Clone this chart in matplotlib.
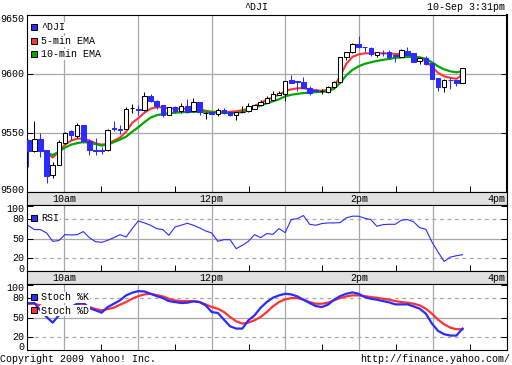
import matplotlib
matplotlib.use('Agg')
import matplotlib.pyplot as plt
import numpy as np
from matplotlib.patches import Rectangle
from matplotlib.transforms import offset_copy

plt.rcParams['font.family'] = ['Liberation Mono', 'DejaVu Sans Mono']

# 5-minute candles of ^DJI, 10-Sep-2009 (9:30am ... 3:25pm)
opens = [9544.4, 9534.5, 9545.0, 9535.3, 9514.0, 9523.3, 9541.6, 9551.7, 9547.2, 9557.0,
         9543.5, 9536.0, 9536.0, 9535.3, 9554.5, 9553.7, 9553.4, 9571.0, 9570.5, 9569.5,
         9581.3, 9577.0, 9573.7, 9565.5, 9572.0, 9568.3, 9573.0, 9568.5, 9576.2, 9567.0,
         9568.0, 9566.0, 9569.2, 9567.8, 9564.9, 9568.2, 9568.3, 9570.5, 9573.4, 9575.4,
         9578.2, 9582.5, 9583.0, 9595.0, 9594.0, 9593.6, 9588.0, 9586.2, 9585.2, 9584.7,
         9588.9, 9593.1, 9614.3, 9618.5, 9625.5, 9623.0, 9621.9, 9616.2, 9617.9, 9618.5,
         9615.8, 9614.8, 9619.6, 9617.6, 9611.1, 9613.4, 9609.2, 9597.0, 9589.4, 9595.2,
         9595.0, 9592.3]
highs = [9545.0, 9560.4, 9550.0, 9536.0, 9525.0, 9543.8, 9551.0, 9552.8, 9558.5, 9557.0,
         9545.0, 9546.0, 9538.0, 9553.0, 9560.0, 9557.0, 9572.0, 9574.5, 9574.0, 9584.4,
         9583.0, 9578.0, 9574.0, 9572.0, 9572.5, 9575.4, 9578.8, 9579.3, 9576.2, 9568.0,
         9568.0, 9571.0, 9571.0, 9568.0, 9568.0, 9573.0, 9575.8, 9574.5, 9577.6, 9581.6,
         9585.2, 9586.0, 9594.2, 9599.3, 9594.0, 9597.6, 9590.0, 9587.0, 9587.2, 9589.5,
         9594.0, 9614.3, 9619.0, 9626.0, 9632.3, 9623.0, 9623.3, 9619.0, 9620.4, 9620.4,
         9616.2, 9621.0, 9623.2, 9618.0, 9614.0, 9615.6, 9609.5, 9597.0, 9595.5, 9597.0,
         9595.0, 9605.0]
lows = [9521.6, 9534.0, 9529.5, 9507.7, 9512.0, 9523.0, 9541.0, 9543.8, 9546.0, 9541.6,
        9531.0, 9531.0, 9532.0, 9534.5, 9552.0, 9549.0, 9553.0, 9567.0, 9565.0, 9569.0,
        9576.0, 9570.0, 9563.6, 9565.0, 9567.0, 9567.0, 9567.0, 9568.0, 9565.0, 9561.8,
        9566.0, 9564.6, 9566.5, 9564.6, 9560.7, 9566.8, 9568.0, 9570.0, 9573.0, 9575.0,
        9578.0, 9582.0, 9576.8, 9592.0, 9586.0, 9588.0, 9582.4, 9585.0, 9583.0, 9584.0,
        9588.0, 9592.0, 9612.0, 9618.0, 9622.0, 9618.5, 9615.6, 9614.8, 9615.4, 9612.8,
        9610.5, 9614.5, 9616.0, 9610.0, 9608.3, 9608.0, 9595.5, 9585.8, 9584.7, 9587.2,
        9590.0, 9592.0]
closes = [9534.5, 9545.0, 9535.0, 9513.4, 9523.3, 9542.1, 9550.0, 9548.0, 9556.8, 9543.0,
          9535.3, 9535.0, 9535.0, 9552.3, 9553.0, 9552.5, 9570.3, 9571.0, 9569.8, 9581.3,
          9576.7, 9573.0, 9565.5, 9572.0, 9568.3, 9572.8, 9568.0, 9576.2, 9567.5, 9567.0,
          9566.5, 9569.7, 9567.0, 9565.0, 9567.8, 9568.2, 9573.1, 9573.4, 9576.2, 9579.6,
          9583.0, 9584.0, 9594.2, 9592.3, 9593.4, 9588.0, 9583.8, 9585.5, 9585.2, 9588.9,
          9593.1, 9614.3, 9618.5, 9625.5, 9622.7, 9622.7, 9616.8, 9618.5, 9617.6, 9614.8,
          9615.6, 9620.4, 9616.2, 9610.5, 9613.4, 9608.3, 9595.9, 9589.4, 9595.0, 9594.8,
          9592.3, 9605.0]

nan = float('nan')
ema5 = [nan, nan, nan, 9533.4, 9529.2, 9534.2, 9540.1, 9543.5, 9545.2, 9545.2,
        9543.5, 9541.4, 9540.1, 9541.0, 9543.5, 9546.1, 9551.1, 9558.7, 9562.5, 9567.2,
        9570.6, 9571.8, 9571.8, 9571.0, 9570.6, 9570.6, 9570.6, 9570.6, 9570.1, 9568.9,
        9568.0, 9568.0, 9568.0, 9568.0, 9568.4, 9569.3, 9570.6, 9572.7, 9575.6, 9578.2,
        9580.3, 9582.4, 9585.4, 9587.0, 9587.9, 9587.9, 9587.0, 9586.2, 9585.8, 9586.6,
        9589.2, 9598.4, 9608.6, 9614.5, 9616.6, 9617.5, 9617.5, 9617.5, 9617.5, 9617.5,
        9617.0, 9617.0, 9616.2, 9614.9, 9613.7, 9611.1, 9606.1, 9601.0, 9598.0, 9596.8,
        9595.9, 9599.3]
ema10 = [nan, nan, nan, 9533.4, 9531.3, 9534.2, 9537.6, 9540.1, 9541.4, 9542.3,
         9541.8, 9540.6, 9539.3, 9540.1, 9542.3, 9544.4, 9546.9, 9551.1, 9554.9, 9559.2,
         9563.0, 9565.1, 9565.9, 9566.8, 9567.2, 9567.6, 9567.8, 9568.0, 9568.0, 9568.0,
         9567.8, 9567.3, 9567.2, 9566.9, 9566.8, 9568.0, 9569.3, 9571.4, 9573.5, 9575.2,
         9576.9, 9578.6, 9581.1, 9582.4, 9583.2, 9583.8, 9584.3, 9584.7, 9584.9, 9585.4,
         9587.5, 9592.5, 9598.9, 9603.5, 9606.5, 9608.6, 9609.9, 9611.1, 9612.0, 9612.8,
         9613.7, 9614.1, 9614.5, 9614.5, 9614.1, 9612.8, 9609.9, 9606.5, 9603.9, 9602.3,
         9601.4, 9602.3]

rsi = [70.2, 64.0, 64.0, 58.8, 45.9, 47.0, 56.2, 55.7, 56.2, 60.9,
       51.6, 45.3, 44.3, 47.4, 51.6, 56.2, 52.6, 65.5, 77.4, 74.3,
       70.7, 65.5, 64.0, 55.2, 68.1, 70.7, 73.8, 70.7, 66.6, 61.9,
       58.8, 45.9, 48.4, 48.4, 34.5, 39.7, 45.9, 56.2, 51.6, 57.8,
       56.7, 65.5, 59.3, 79.5, 81.0, 85.7, 72.2, 70.7, 73.3, 74.3,
       74.3, 74.8, 82.1, 84.7, 84.7, 81.6, 79.5, 69.1, 71.7, 72.2,
       72.2, 78.5, 79.5, 75.9, 67.1, 64.5, 44.8, 29.3, 14.8, 21.5,
       23.6, 25.2]

stoch_k = [72.1, 72.6, 61.3, 51.0, 42.3, 53.6, 61.3, 66.4, 71.5, 73.0,
           64.9, 61.3, 57.7, 66.4, 71.5, 76.7, 84.4, 88.5, 91.0, 90.5,
           86.9, 83.3, 80.3, 75.6, 74.1, 72.6, 73.1, 75.1, 74.1, 69.0,
           58.7, 57.2, 46.9, 36.7, 33.1, 33.1, 45.9, 53.6, 65.4, 74.1,
           80.8, 84.4, 86.9, 85.9, 82.8, 77.7, 72.6, 67.9, 66.4, 70.0,
           77.7, 83.3, 86.9, 89.0, 86.9, 81.8, 79.2, 77.7, 75.6, 73.6,
           70.5, 70.5, 70.5, 67.4, 63.8, 56.2, 40.8, 29.5, 24.4, 22.3,
           22.3, 33.1]
stoch_d = [71.5, 71.5, 69.0, 63.8, 58.7, 56.2, 58.7, 63.8, 69.0, 70.0,
           66.4, 63.3, 61.3, 63.3, 65.4, 70.0, 74.1, 79.2, 83.3, 85.9,
           86.9, 84.9, 82.8, 79.2, 76.7, 75.6, 75.6, 75.6, 74.1, 70.5,
           66.4, 63.8, 58.7, 51.0, 44.4, 40.8, 42.3, 45.9, 51.0, 58.7,
           67.4, 74.1, 78.2, 80.3, 80.3, 77.7, 74.1, 71.5, 71.5, 73.1,
           76.7, 80.3, 82.8, 84.4, 84.4, 83.3, 81.8, 80.8, 79.2, 77.7,
           75.6, 74.1, 73.1, 71.5, 69.0, 63.8, 56.2, 46.9, 39.7, 34.6,
           32.1, 32.1]

price_ticks = [9500, 9550, 9600, 9650]
osc_ticks = [0, 20, 50, 80, 100]
time_labels = ['10am', '12pm', '2pm', '4pm']
label_minutes = [30, 150, 270, 390]   # minutes after 9:30

BLUE = '#2b2bff'
RED = '#ff3333'
GREEN = '#00a800'
GRID = '#a8a8a8'
FS = 7.2

W, H = 512, 365
fig = plt.figure(figsize=(W / 100, H / 100), dpi=100)


def box(x0, y0, x1, y1):
    # pixel box (top-left origin) -> figure rect
    return [x0 / W, 1 - y1 / H, (x1 - x0) / W, (y1 - y0) / H]


ax = fig.add_axes(box(27, 15, 507, 192))
strip1 = fig.add_axes(box(27, 192, 507, 205))
ax_rsi = fig.add_axes(box(27, 205, 507, 271))
strip2 = fig.add_axes(box(27, 271, 507, 284))
ax_st = fig.add_axes(box(27, 284, 507, 350))

n = len(closes)
xs = 1.0 + 4.97 * np.arange(n)   # candle slots, minutes after 9:30
o = np.array(opens)
c = np.array(closes)
down = c < o

hours = [30, 90, 150, 210, 270, 330]
halves = [60, 120, 180, 240, 300, 360]

for a in (ax, ax_rsi, ax_st):
    a.set_xlim(0, 390)
    for hx in hours:
        a.axvline(hx, color=GRID, lw=0.9, zorder=0)
    a.set_xticks(halves)
    a.set_xticklabels([])
    a.tick_params(axis='x', direction='in', length=4, width=0.7, bottom=True, top=False)
    a.tick_params(axis='y', direction='in', length=4, width=0.7, left=True, right=True,
                  labelleft=False)
    for s in a.spines.values():
        s.set_linewidth(0.8)


def ylabels(a, vals, shift_first, shift_last):
    # y tick labels, end ones nudged inside the panel like the original
    a.set_yticks(vals)
    for k, v in enumerate(vals):
        dy = shift_first if k == 0 else (shift_last if k == len(vals) - 1 else 0)
        tr = offset_copy(a.get_yaxis_transform(), fig=fig, x=-2.5, y=dy, units='dots')
        a.text(0, v, str(v), transform=tr, ha='right', va='center', fontsize=FS)


# main price panel
ax.set_ylim(9500, 9650)
ylabels(ax, price_ticks, 2, -4.5)
for yv in (9550, 9600):
    ax.axhline(yv, color=GRID, lw=0.9, zorder=0)
ax.plot(xs, ema5, color=RED, lw=1.5, zorder=2)
ax.plot(xs, ema10, color=GREEN, lw=1.6, zorder=2)
ax.vlines(xs, lows, highs, colors=np.where(down, BLUE, 'black'), lw=0.75, zorder=3)
ax.bar(xs, np.abs(c - o), bottom=np.minimum(o, c), width=3.7,
       color=np.where(down, BLUE, 'white'), edgecolor=np.where(down, BLUE, 'black'),
       lw=0.75, zorder=4)
ax.spines['right'].set_linewidth(1.5)

# RSI panel
ax_rsi.set_ylim(0, 102)
ylabels(ax_rsi, osc_ticks, 2.5, -2.5)
ax_rsi.axhline(50, color=GRID, lw=0.9, zorder=0)
for yv in (20, 80):
    ax_rsi.axhline(yv, color=GRID, lw=0.9, ls=(0, (3, 3)), zorder=0)
ax_rsi.plot(xs, rsi, color=BLUE, lw=0.8)

# stochastics panel
ax_st.set_ylim(0, 102)
ylabels(ax_st, osc_ticks, 2.5, -3)
ax_st.axhline(50, color=GRID, lw=0.9, zorder=0)
for yv in (20, 80):
    ax_st.axhline(yv, color=GRID, lw=0.9, ls=(0, (3, 3)), zorder=0)
ax_st.plot(xs, stoch_d, color=RED, lw=1.6)
ax_st.plot(xs, stoch_k, color=BLUE, lw=1.6)

# time label strips
for st in (strip1, strip2):
    st.set_facecolor('#e0e0e0')
    st.set_xlim(0, 390)
    st.set_ylim(0, 1)
    st.set_xticks([])
    st.set_yticks([])
    for s in st.spines.values():
        s.set_linewidth(0.8)
    for lab, mx in zip(time_labels, label_minutes):
        if mx >= 390:
            st.text(389, 0.45, lab, ha='right', va='center', fontsize=FS)
        else:
            st.text(mx, 0.45, lab, ha='center', va='center', fontsize=FS)


def legend_item(px, py, color, label):
    fig.add_artist(Rectangle((px / W, 1 - (py + 3) / H), 6 / W, 6 / H,
                             transform=fig.transFigure, facecolor=color,
                             edgecolor='black', lw=0.7, zorder=5))
    fig.text((px + 10) / W, 1 - (py + 0.5) / H, label, ha='left', va='center',
             fontsize=FS, zorder=5,
             bbox=dict(facecolor='white', edgecolor='none', pad=0.4))


legend_item(31, 27, BLUE, '^DJI')
legend_item(31, 40.7, RED, '5-min EMA')
legend_item(31, 53.7, GREEN, '10-min EMA')
legend_item(31, 217.5, BLUE, 'RSI')
legend_item(31, 296.7, BLUE, 'Stoch %K')
legend_item(31, 310, RED, 'Stoch %D')

fig.text(256 / W, 1 - 6.5 / H, '^DJI', ha='center', va='center', fontsize=FS)
fig.text(505 / W, 1 - 6.5 / H, '10-Sep 3:31pm', ha='right', va='center', fontsize=FS)
fig.text(0.5 / W, 1 - 359.5 / H, 'Copyright 2009 Yahoo! Inc.', ha='left', va='center', fontsize=FS)
fig.text(510 / W, 1 - 359.5 / H, 'http://finance.yahoo.com/', ha='right', va='center', fontsize=FS)

fig.savefig('out.png', dpi=100, facecolor='white')
